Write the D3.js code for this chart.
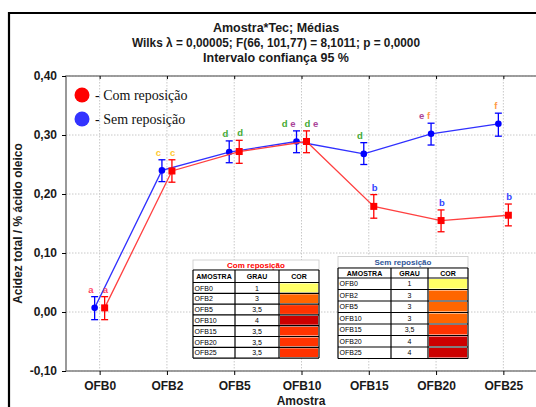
<!DOCTYPE html>
<html><head><meta charset="utf-8">
<script src="https://cdn.jsdelivr.net/npm/d3@7"></script>
<style>
html,body{margin:0;padding:0;background:#fff;}
svg{display:block;}
</style></head>
<body>
<svg id="c" width="536" height="407" font-family="Liberation Sans, Arial, sans-serif"></svg>
<script>
// ---- data ----
const categories = ["OFB0","OFB2","OFB5","OFB10","OFB15","OFB20","OFB25"];
const comMean = [0.007,0.239,0.272,0.289,0.179,0.155,0.164];
const comLow  = [-0.013,0.220,0.252,0.270,0.159,0.136,0.146];
const comHigh = [0.026,0.258,0.291,0.307,0.199,0.173,0.183];
const semMean = [0.007,0.240,0.271,0.289,0.268,0.302,0.319];
const semLow  = [-0.013,0.221,0.253,0.270,0.250,0.283,0.298];
const semHigh = [0.026,0.258,0.290,0.307,0.287,0.320,0.337];
const comLetters = [["a"],["c"],["d"],["d","e"],["b"],["b"],["b"]];
const semLetters = [["a"],["c"],["d"],["d","e"],["d"],["e","f"],["f"]];
const yTicks = [-0.10,0.00,0.10,0.20,0.30,0.40];
const yTickLabels = ["-0,10","0,00","0,10","0,20","0,30","0,40"];
const titleLines = ["Amostra*Tec; Médias","Wilks λ = 0,00005; F(66, 101,77) = 8,1011; p = 0,0000","Intervalo confiança 95 %"];
const seriesNames = ["- Com reposição","- Sem reposição"];
const tableSamples = ["OFB0","OFB2","OFB5","OFB10","OFB15","OFB20","OFB25"];
const comGrau = ["1","3","3,5","4","3,5","3,5","3,5"];
const semGrau = ["1","3","3","3","3,5","4","4"];
const tableHeaders = ["AMOSTRA","GRAU","COR"];

const letterColor = {a:"#ff4466",b:"#3344ff",c:"#ffc933",d:"#44aa33",e:"#aa4499",f:"#ff9944"};
const grauColor = {"1":"#ffff66","3":"#ff6600","3,5":"#ff3300","4":"#cc0000"};

const svg = d3.select("#c");
const L=66, T=76, R=537, B=371;
const x = d3.scalePoint().domain(categories).range([L,R]).padding(0.5);
const y = d3.scaleLinear().domain([-0.1,0.4]).range([B,T]);

// outer frame
svg.append("path").attr("d",`M9,407 V13 H540`).attr("fill","none").attr("stroke","#000").attr("stroke-width",2.2);

// titles
titleLines.forEach((t,i)=>{
  const tt = svg.append("text").attr("x",276).attr("y",31.5+i*15).attr("text-anchor","middle")
    .attr("font-size",12.5).attr("font-weight","bold").attr("fill","#1a1a1a").text(t);
  if(i===1) tt.attr("textLength",288).attr("lengthAdjust","spacingAndGlyphs");
});

// gridlines
const grid = svg.append("g").attr("stroke","#c8c8c8").attr("stroke-dasharray","1.5,1.5").attr("stroke-width",1);
categories.forEach(c=>grid.append("line").attr("x1",x(c)).attr("x2",x(c)).attr("y1",T).attr("y2",B));
yTicks.forEach(v=>grid.append("line").attr("x1",L).attr("x2",R).attr("y1",y(v)).attr("y2",y(v)));

// plot border
svg.append("path").attr("d",`M${R},${T} H${L} V${B} H${R}`).attr("fill","none").attr("stroke","#808080").attr("stroke-width",1.6);

// axes
const yAxis = d3.axisLeft(y).tickValues(yTicks).tickSize(4).tickFormat((d,i)=>yTickLabels[i]);
const gy = svg.append("g").attr("transform",`translate(${L},0)`).call(yAxis);
gy.select(".domain").remove();
gy.attr("font-family",null);
gy.selectAll("text").attr("font-size",12).attr("font-weight","bold").attr("fill","#1a1a1a").attr("dx",-2);
const xAxis = d3.axisBottom(x).tickSize(4).tickPadding(6);
const gx = svg.append("g").attr("transform",`translate(0,${B})`).call(xAxis);
gx.select(".domain").remove();
gx.attr("font-family",null);
gx.selectAll("text").attr("font-size",12).attr("font-weight","bold").attr("fill","#1a1a1a");
const xTop = d3.axisTop(x).tickSize(-3).tickFormat("");
const gxt = svg.append("g").attr("transform",`translate(0,${T})`).call(xTop);
gxt.select(".domain").remove();

// axis titles
svg.append("text").attr("x",301).attr("y",405).attr("text-anchor","middle").attr("font-size",12).attr("font-weight","bold").attr("fill","#1a1a1a").text("Amostra");
svg.append("text").attr("transform",`translate(22,${(T+B)/2}) rotate(-90)`).attr("text-anchor","middle").attr("font-size",12).attr("font-weight","bold").attr("fill","#1a1a1a").text("Acidez total / % ácido oleico");

// series
const series = [
  {mean:semMean,low:semLow,high:semHigh,letters:semLetters,off:-5,line:"#3030ff",col:"#0000ff",shape:"circle",lx:-1,anchor:"end"},
  {mean:comMean,low:comLow,high:comHigh,letters:comLetters,off:5,line:"#ff4040",col:"#ff0000",shape:"square",lx:-2,anchor:"start"}
];
series.forEach(s=>{
  const pts = categories.map((c,i)=>({c,i,xp:x(c)+s.off}));
  const line = d3.line().x(d=>d.xp).y(d=>y(s.mean[d.i]));
  svg.append("path").datum(pts).attr("d",line).attr("fill","none").attr("stroke",s.line).attr("stroke-width",1.3);
  const g = svg.append("g").attr("stroke",s.col).attr("stroke-width",1.3);
  pts.forEach(d=>{
    g.append("line").attr("x1",d.xp).attr("x2",d.xp).attr("y1",y(s.low[d.i])).attr("y2",y(s.high[d.i]));
    g.append("line").attr("x1",d.xp-3.5).attr("x2",d.xp+3.5).attr("y1",y(s.low[d.i])).attr("y2",y(s.low[d.i]));
    g.append("line").attr("x1",d.xp-3.5).attr("x2",d.xp+3.5).attr("y1",y(s.high[d.i])).attr("y2",y(s.high[d.i]));
  });
  pts.forEach(d=>{
    if(s.shape==="circle") svg.append("circle").attr("cx",d.xp).attr("cy",y(s.mean[d.i])).attr("r",3.3).attr("fill",s.col);
    else svg.append("rect").attr("x",d.xp-3.5).attr("y",y(s.mean[d.i])-3.5).attr("width",7).attr("height",7).attr("fill",s.col);
    const t = svg.append("text").attr("x",d.xp+s.lx).attr("y",y(s.high[d.i])-4).attr("text-anchor",s.anchor)
      .attr("font-size",9.5).attr("font-weight","bold");
    s.letters[d.i].forEach((l,k)=>{
      t.append("tspan").attr("fill",letterColor[l]).text((k?" ":"")+l);
    });
  });
});

// legend
const legCols = ["#ff0000","#3333ff"];
seriesNames.forEach((n,i)=>{
  svg.append("circle").attr("cx",82).attr("cy",95+i*24).attr("r",7.5).attr("fill",legCols[i]);
  svg.append("text").attr("x",95).attr("y",100+i*24).attr("font-family","Liberation Serif, Times New Roman, serif").attr("font-size",14).attr("fill","#111").text(n);
});

// tables
function drawTable(opt){
  const g = svg.append("g");
  const W = opt.cw.reduce((a,b)=>a+b,0);
  g.append("rect").attr("x",opt.x).attr("y",opt.ty).attr("width",W).attr("height",opt.th).attr("fill","#fff").attr("stroke","#c8c8c8").attr("stroke-width",0.8);
  g.append("text").attr("x",opt.x+W/2).attr("y",opt.ty+opt.th/2+3).attr("text-anchor","middle").attr("font-size",8).attr("font-weight","bold").attr("fill",opt.tcol).text(opt.title);
  const hy = opt.ty+opt.th;
  const xs = [opt.x]; opt.cw.forEach((w,i)=>xs.push(xs[i]+w));
  g.append("rect").attr("x",opt.x).attr("y",hy).attr("width",W).attr("height",opt.hh+opt.rh*tableSamples.length).attr("fill","#fff");
  tableHeaders.forEach((h,i)=>{
    g.append("text").attr("x",(xs[i]+xs[i+1])/2).attr("y",hy+opt.hh/2+2.6).attr("text-anchor","middle").attr("font-size",7).attr("font-weight","bold").attr("fill","#000").text(h);
  });
  tableSamples.forEach((s,r)=>{
    const ry = hy+opt.hh+r*opt.rh;
    g.append("rect").attr("x",xs[2]+1).attr("y",ry+1).attr("width",opt.cw[2]-2).attr("height",opt.rh-2).attr("fill",grauColor[opt.grau[r]]);
    g.append("text").attr("x",xs[0]+1.5).attr("y",ry+opt.rh/2+2.6).attr("font-size",7).attr("fill","#000").text(s);
    g.append("text").attr("x",(xs[1]+xs[2])/2).attr("y",ry+opt.rh/2+2.6).attr("text-anchor","middle").attr("font-size",7).attr("fill","#000").text(opt.grau[r]);
  });
  const bg = g.append("g").attr("stroke","#000").attr("stroke-width",1.2);
  for(let r=0;r<=tableSamples.length+1;r++){
    const yy = r===0?hy:hy+opt.hh+(r-1)*opt.rh;
    bg.append("line").attr("x1",opt.x).attr("x2",opt.x+W).attr("y1",yy).attr("y2",yy);
  }
  const bottom = hy+opt.hh+tableSamples.length*opt.rh;
  xs.forEach(xx=>bg.append("line").attr("x1",xx).attr("x2",xx).attr("y1",hy).attr("y2",bottom));
}
drawTable({x:193,ty:260,th:10,hh:12.5,rh:10.8,cw:[42,44,40],grau:comGrau,title:"Com reposição",tcol:"#ff0000"});
drawTable({x:338,ty:256.5,th:11.5,hh:10,rh:11.5,cw:[53,37,40],grau:semGrau,title:"Sem reposição",tcol:"#2f5597"});
</script>
</body></html>
